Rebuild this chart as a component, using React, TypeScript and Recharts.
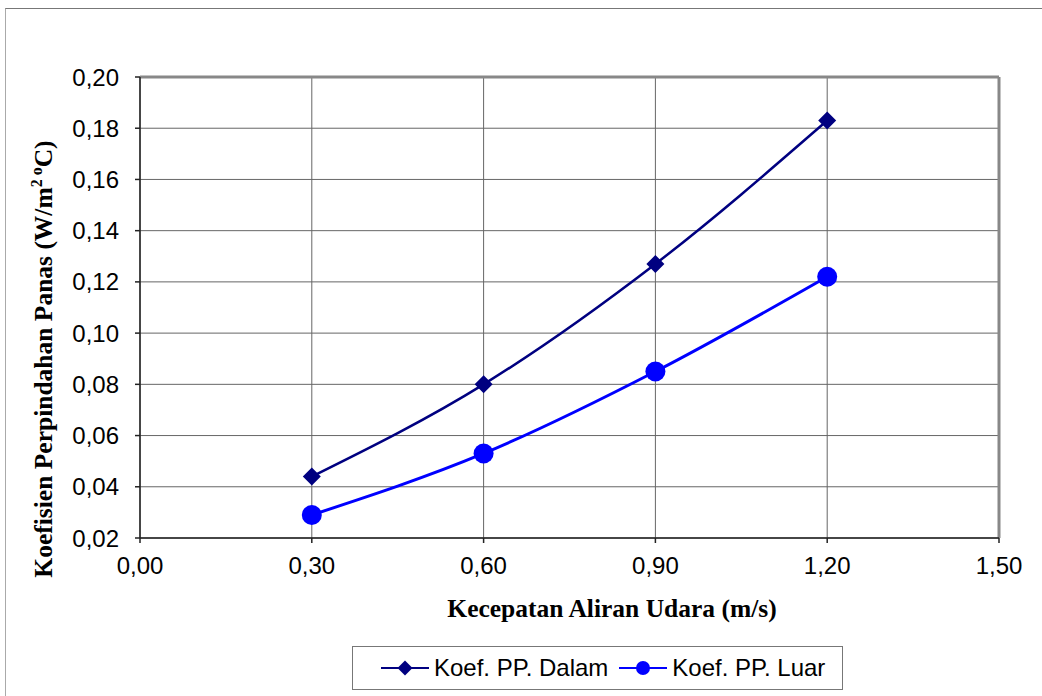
import { LineChart, Line, XAxis, YAxis, CartesianGrid, ReferenceLine } from 'recharts';

// kecepatan aliran udara (m/s)
const speeds = [0.3, 0.6, 0.9, 1.2];
const koefDalam = [0.044, 0.08, 0.127, 0.183];
const koefLuar = [0.029, 0.053, 0.085, 0.122];
const xTicks = [0, 0.3, 0.6, 0.9, 1.2, 1.5];
const yTicks = [0.02, 0.04, 0.06, 0.08, 0.1, 0.12, 0.14, 0.16, 0.18, 0.2];

const series = [
    { key: 'dalam', name: 'Koef. PP. Dalam', color: '#000080', width: 2.5, marker: 'diamond' },
    { key: 'luar', name: 'Koef. PP. Luar', color: '#0000FF', width: 3, marker: 'circle' },
];

const data = speeds.map((s, i) => ({ speed: s, dalam: koefDalam[i], luar: koefLuar[i] }));

const SANS = '"Liberation Sans", Arial, sans-serif';
const SERIF = '"Liberation Serif", "Times New Roman", serif';
const fmt = (v: number) => v.toFixed(2).replace('.', ',');

const Diamond = (props: any) => {
    const { cx, cy, fill, size = 9 } = props;
    if (cx == null || cy == null) return null;
    return <polygon points={`${cx},${cy - size} ${cx + size},${cy} ${cx},${cy + size} ${cx - size},${cy}`} fill={fill} />;
};

const Marker = ({ kind, color, cx, cy, small }: any) =>
    kind === 'diamond'
        ? <Diamond cx={cx} cy={cy} fill={color} size={small ? 7.5 : 9} />
        : <circle cx={cx} cy={cy} r={small ? 7 : 10} fill={color} />;

export default function App() {
    return (
        <div style={{ position: 'fixed', left: 0, top: 0, width: 1042, height: 696, background: '#fff', fontFamily: SANS }}>
            <div style={{ position: 'absolute', left: 5, top: 8, right: 0, bottom: 0, borderTop: '1.5px solid #777', borderLeft: '1.5px solid #aaa' }} />
            <LineChart width={1042} height={696} data={data} margin={{ top: 77, right: 43, left: 0, bottom: 88 }}>
                <CartesianGrid stroke="#666" strokeWidth={1} />
                <XAxis
                    dataKey="speed"
                    type="number"
                    domain={[0, 1.5]}
                    ticks={xTicks}
                    tickFormatter={fmt}
                    height={70}
                    tickSize={5}
                    tickMargin={14}
                    stroke="#222"
                    strokeWidth={1.5}
                    tick={{ fill: '#000', fontSize: 24, fontFamily: SANS }}
                    label={{
                        content: () => (
                            <text x={612} y={617} textAnchor="middle" fontFamily={SERIF} fontWeight="bold" fontSize={25.5} fill="#000">
                                Kecepatan Aliran Udara (m/s)
                            </text>
                        ),
                    }}
                />
                <YAxis
                    type="number"
                    domain={[0.02, 0.2]}
                    ticks={yTicks}
                    tickFormatter={fmt}
                    width={140}
                    tickSize={5}
                    tickMargin={16}
                    stroke="#222"
                    strokeWidth={1.5}
                    tick={{ fill: '#000', fontSize: 24, fontFamily: SANS }}
                    label={{
                        content: () => (
                            <text
                                x={0}
                                y={0}
                                transform="translate(52 359) rotate(-90)"
                                textAnchor="middle"
                                fontFamily={SERIF}
                                fontWeight="bold"
                                fontSize={25.5}
                                fill="#000"
                            >
                                Koefisien Perpindahan Panas (W/m
                                <tspan dy={-10} fontSize={16}>2</tspan>
                                <tspan fontSize={16}> o</tspan>
                                <tspan dy={10}>C)</tspan>
                            </text>
                        ),
                    }}
                />
                <ReferenceLine y={0.2} stroke="#888" strokeWidth={3} />
                <ReferenceLine x={1.5} stroke="#888" strokeWidth={3} />
                {series.map((s) => (
                    <Line
                        key={s.key}
                        type="monotone"
                        dataKey={s.key}
                        name={s.name}
                        stroke={s.color}
                        strokeWidth={s.width}
                        isAnimationActive={false}
                        dot={(p: any) => <Marker key={`${s.key}-${p.index}`} kind={s.marker} color={s.color} cx={p.cx} cy={p.cy} />}
                        activeDot={false}
                    />
                ))}
            </LineChart>
            <div
                style={{
                    position: 'absolute',
                    left: 352,
                    top: 646,
                    width: 491,
                    height: 44,
                    border: '1px solid #777',
                    boxSizing: 'border-box',
                    display: 'flex',
                    alignItems: 'center',
                    paddingLeft: 27,
                    fontSize: 24,
                    color: '#000',
                    whiteSpace: 'nowrap',
                }}
            >
                {series.map((s, i) => (
                    <div key={s.key} style={{ display: 'flex', alignItems: 'center', marginRight: i === 0 ? 10 : 0 }}>
                        <svg width={50} height={20}>
                            <line x1={1} y1={10} x2={49} y2={10} stroke={s.color} strokeWidth={2} />
                            <Marker kind={s.marker} color={s.color} cx={25} cy={10} small />
                        </svg>
                        <span style={{ marginLeft: 4 }}>{s.name}</span>
                    </div>
                ))}
            </div>
        </div>
    );
}
